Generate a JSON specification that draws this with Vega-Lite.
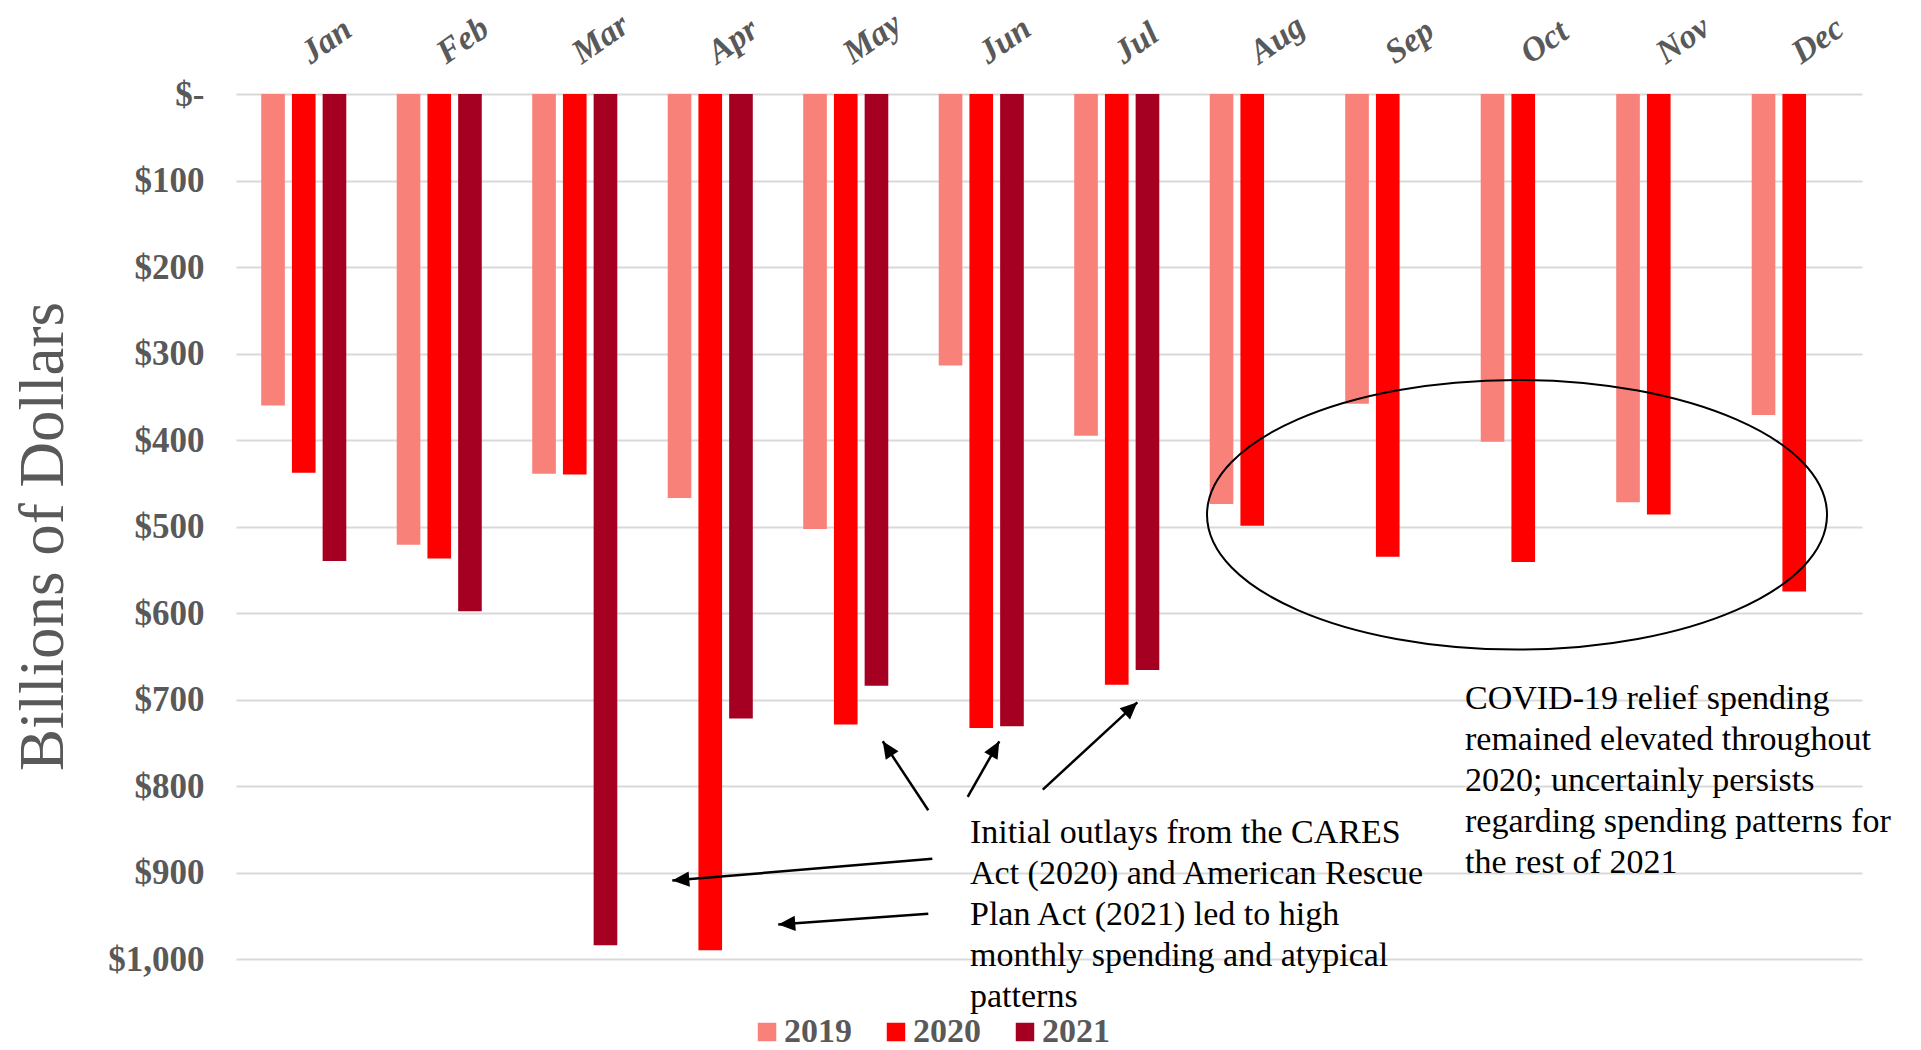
{
  "$schema": "https://vega.github.io/schema/vega-lite/v6.json",
  "width": 1626,
  "height": 865,
  "autosize": {"type": "none"},
  "padding": {"left": 236, "top": 94, "right": 59, "bottom": 91},
  "background": "white",
  "config": {"view": {"stroke": null}, "font": "Liberation Serif"},
  "datasets": {
    "bars": [
      {"month": "Jan", "year": "2019", "value": 360},
      {"month": "Jan", "year": "2020", "value": 438},
      {"month": "Jan", "year": "2021", "value": 540},
      {"month": "Feb", "year": "2019", "value": 521},
      {"month": "Feb", "year": "2020", "value": 537},
      {"month": "Feb", "year": "2021", "value": 598},
      {"month": "Mar", "year": "2019", "value": 439},
      {"month": "Mar", "year": "2020", "value": 440},
      {"month": "Mar", "year": "2021", "value": 984},
      {"month": "Apr", "year": "2019", "value": 467},
      {"month": "Apr", "year": "2020", "value": 990},
      {"month": "Apr", "year": "2021", "value": 722},
      {"month": "May", "year": "2019", "value": 503},
      {"month": "May", "year": "2020", "value": 729},
      {"month": "May", "year": "2021", "value": 684},
      {"month": "Jun", "year": "2019", "value": 314},
      {"month": "Jun", "year": "2020", "value": 733},
      {"month": "Jun", "year": "2021", "value": 731},
      {"month": "Jul", "year": "2019", "value": 395},
      {"month": "Jul", "year": "2020", "value": 683},
      {"month": "Jul", "year": "2021", "value": 666},
      {"month": "Aug", "year": "2019", "value": 474},
      {"month": "Aug", "year": "2020", "value": 499},
      {"month": "Sep", "year": "2019", "value": 358},
      {"month": "Sep", "year": "2020", "value": 535},
      {"month": "Oct", "year": "2019", "value": 402},
      {"month": "Oct", "year": "2020", "value": 541},
      {"month": "Nov", "year": "2019", "value": 472},
      {"month": "Nov", "year": "2020", "value": 486},
      {"month": "Dec", "year": "2019", "value": 371},
      {"month": "Dec", "year": "2020", "value": 575}
    ],
    "arrows": [
      {"fromMonth": 5.109, "fromValue": 828.1, "toMonth": 4.773, "toValue": 748.3, "heading": 326.5},
      {"fromMonth": 5.400, "fromValue": 812.6, "toMonth": 5.633, "toValue": 748.3, "heading": 29.6},
      {"fromMonth": 5.954, "fromValue": 804.1, "toMonth": 6.652, "toValue": 703.3, "heading": 47.3},
      {"fromMonth": 5.139, "fromValue": 884.2, "toMonth": 3.220, "toValue": 909.3, "heading": 265.2},
      {"fromMonth": 5.109, "fromValue": 947.8, "toMonth": 4.002, "toValue": 960.1, "heading": 265.9}
    ],
    "notes": [
      {"monthIndex": 5.417, "value": 865.4, "note": "Initial outlays from the CARES\nAct (2020) and American Rescue\nPlan Act (2021) led to high\nmonthly spending and atypical\npatterns"},
      {"monthIndex": 9.070, "value": 711, "note": "COVID-19 relief spending\nremained elevated throughout\n2020; uncertainly persists\nregarding spending patterns for\nthe rest of 2021"}
    ],
    "highlight": [
      {"monthIndex": 9.454, "value": 486.4}
    ]
  },
  "layer": [
    {
      "data": {"name": "bars"},
      "mark": {"type": "bar"},
      "encoding": {
        "x": {
          "field": "month",
          "type": "nominal",
          "sort": ["Jan", "Feb", "Mar", "Apr", "May", "Jun", "Jul", "Aug", "Sep", "Oct", "Nov", "Dec"],
          "scale": {"paddingInner": 0.32, "paddingOuter": 0.16},
          "axis": {
            "orient": "top",
            "title": null,
            "domain": false,
            "ticks": false,
            "grid": false,
            "labelAngle": -35,
            "labelAlign": "left",
            "labelBaseline": "bottom",
            "labelPadding": 24,
            "labelOffset": 11,
            "labelFont": "Liberation Serif",
            "labelFontSize": 34,
            "labelFontWeight": "bold",
            "labelFontStyle": "italic",
            "labelColor": "#595959"
          }
        },
        "xOffset": {
          "field": "year",
          "type": "nominal",
          "scale": {"domain": ["2019", "2020", "2021"], "paddingInner": 0.23, "paddingOuter": 0.115}
        },
        "y": {
          "field": "value",
          "type": "quantitative",
          "scale": {"domain": [0, 1000], "reverse": true, "nice": false, "zero": true},
          "axis": {
            "title": "Billions of Dollars",
            "titleFont": "Liberation Serif",
            "titleFontSize": 63,
            "titleFontWeight": "normal",
            "titleColor": "#595959",
            "titleAngle": -90,
            "titleX": -174,
            "titleY": 442,
            "titleAlign": "center",
            "titleBaseline": "alphabetic",
            "values": [0, 100, 200, 300, 400, 500, 600, 700, 800, 900, 1000],
            "labelExpr": "datum.value === 0 ? '$-\u00a0' : '$' + format(datum.value, ',')",
            "labelFont": "Liberation Serif",
            "labelFontSize": 35,
            "labelFontWeight": "bold",
            "labelColor": "#595959",
            "labelPadding": 32,
            "ticks": false,
            "domain": false,
            "grid": true,
            "gridColor": "#D9D9D9",
            "gridWidth": 2
          }
        },
        "color": {
          "field": "year",
          "type": "nominal",
          "scale": {"domain": ["2019", "2020", "2021"], "range": ["#F8827A", "#FF0000", "#A50021"]},
          "legend": {
            "title": null,
            "orient": "none",
            "legendX": 514,
            "legendY": 921,
            "direction": "horizontal",
            "symbolType": "square",
            "symbolSize": 342,
            "symbolStrokeWidth": 0,
            "labelFont": "Liberation Serif",
            "labelFontSize": 34,
            "labelFontWeight": "bold",
            "labelColor": "#595959",
            "labelOffset": 0,
            "columnPadding": 27,
            "padding": 0
          }
        }
      }
    },
    {
      "data": {"name": "highlight"},
      "mark": {
        "type": "point",
        "shape": "M-1,0A1,0.435,0,1,1,1,0A1,0.435,0,1,1,-1,0Z",
        "size": 384400,
        "filled": false,
        "color": "black",
        "strokeWidth": 2,
        "opacity": 1
      },
      "encoding": {
        "x": {"field": "monthIndex", "type": "quantitative", "scale": {"domain": [0, 12], "nice": false, "zero": false}, "axis": null},
        "y": {"field": "value", "type": "quantitative", "scale": {"domain": [0, 1000], "reverse": true, "nice": false, "zero": true}}
      }
    },
    {
      "data": {"name": "arrows"},
      "mark": {"type": "rule", "color": "black", "strokeWidth": 2.5},
      "encoding": {
        "x": {"field": "fromMonth", "type": "quantitative", "scale": {"domain": [0, 12], "nice": false, "zero": false}, "axis": null},
        "x2": {"field": "toMonth"},
        "y": {"field": "fromValue", "type": "quantitative", "scale": {"domain": [0, 1000], "reverse": true, "nice": false, "zero": true}},
        "y2": {"field": "toValue"}
      }
    },
    {
      "data": {"name": "arrows"},
      "mark": {
        "type": "point",
        "shape": "M0,0L0.45,1L-0.45,1Z",
        "size": 1156,
        "filled": true,
        "color": "black",
        "opacity": 1
      },
      "encoding": {
        "x": {"field": "toMonth", "type": "quantitative", "scale": {"domain": [0, 12], "nice": false, "zero": false}, "axis": null},
        "y": {"field": "toValue", "type": "quantitative", "scale": {"domain": [0, 1000], "reverse": true, "nice": false, "zero": true}},
        "angle": {"field": "heading", "type": "quantitative", "scale": null}
      }
    },
    {
      "data": {"name": "notes"},
      "mark": {
        "type": "text",
        "lineBreak": "\n",
        "align": "left",
        "baseline": "alphabetic",
        "font": "Liberation Serif",
        "fontSize": 34,
        "lineHeight": 41,
        "color": "black"
      },
      "encoding": {
        "x": {"field": "monthIndex", "type": "quantitative", "scale": {"domain": [0, 12], "nice": false, "zero": false}, "axis": null},
        "y": {"field": "value", "type": "quantitative", "scale": {"domain": [0, 1000], "reverse": true, "nice": false, "zero": true}},
        "text": {"field": "note", "type": "nominal"}
      }
    }
  ],
  "resolve": {"scale": {"x": "independent"}}
}
